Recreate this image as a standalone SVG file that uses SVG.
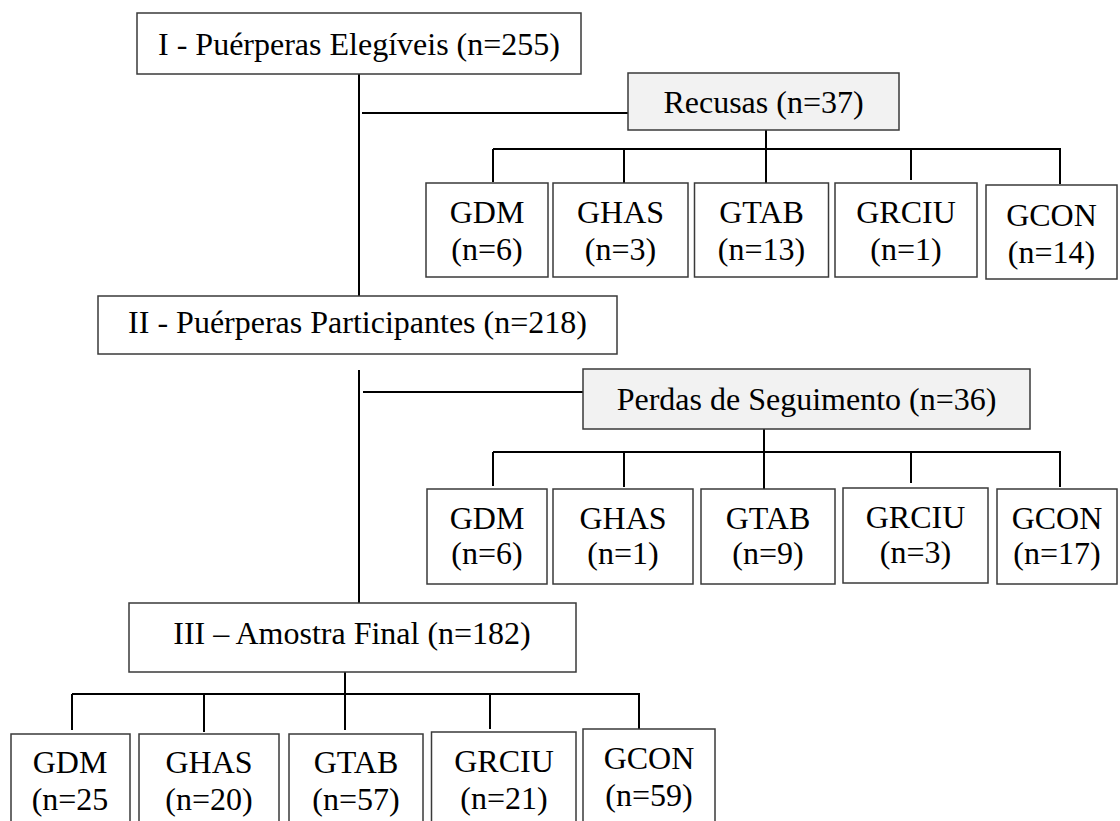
<svg xmlns="http://www.w3.org/2000/svg" width="1120" height="821" viewBox="0 0 1120 821">
<style>
.box{fill:#ffffff;stroke:#3a3a3a;stroke-width:1.5}
.gray{fill:#f2f2f2;stroke:#3a3a3a;stroke-width:1.5}
text{font-family:'Liberation Serif','DejaVu Serif',serif;font-size:32px;fill:#000;text-anchor:middle}
.c line{stroke:#000;stroke-width:2}
</style>
<rect width="1120" height="821" fill="#ffffff"/>
<g class="c" id="connectors">
<line x1="359" y1="74" x2="359" y2="296"/>
<line x1="362" y1="113" x2="628" y2="113"/>
<line x1="766" y1="130" x2="766" y2="183"/>
<line x1="493" y1="149" x2="1061" y2="149"/>
<line x1="493" y1="149" x2="493" y2="182"/>
<line x1="624" y1="149" x2="624" y2="183"/>
<line x1="911" y1="149" x2="911" y2="180"/>
<line x1="1060" y1="149" x2="1060" y2="184"/>
<line x1="359" y1="370" x2="359" y2="603"/>
<line x1="363" y1="392" x2="583" y2="392"/>
<line x1="764" y1="429" x2="764" y2="489"/>
<line x1="493" y1="452" x2="1061" y2="452"/>
<line x1="493" y1="452" x2="493" y2="486"/>
<line x1="624" y1="452" x2="624" y2="487"/>
<line x1="911" y1="452" x2="911" y2="483"/>
<line x1="1060" y1="452" x2="1060" y2="487"/>
<line x1="345" y1="672" x2="345" y2="730"/>
<line x1="72" y1="694" x2="640" y2="694"/>
<line x1="72" y1="694" x2="72" y2="730"/>
<line x1="204" y1="694" x2="204" y2="732"/>
<line x1="490" y1="694" x2="490" y2="729"/>
<line x1="639" y1="694" x2="639" y2="729"/>
</g>
<g id="n1"><rect class="box" x="137" y="13" width="444" height="61"/><text x="359" y="55">I - Puérperas Elegíveis (n=255)</text></g>
<g id="recusas"><rect class="gray" x="628" y="73" width="271" height="57"/><text x="763.5" y="113">Recusas (n=37)</text></g>
<g id="r1"><rect class="box" x="426" y="183" width="122" height="94"/><text x="487" y="223">GDM</text><text x="487" y="260">(n=6)</text></g>
<g id="r2"><rect class="box" x="553" y="183" width="135" height="94"/><text x="620.5" y="223">GHAS</text><text x="620.5" y="260">(n=3)</text></g>
<g id="r3"><rect class="box" x="694.5" y="183" width="134" height="94"/><text x="761.5" y="223">GTAB</text><text x="761.5" y="260">(n=13)</text></g>
<g id="r4"><rect class="box" x="835" y="183" width="142" height="94"/><text x="906" y="223">GRCIU</text><text x="906" y="260">(n=1)</text></g>
<g id="r5"><rect class="box" x="986" y="185" width="131" height="94"/><text x="1051.5" y="226">GCON</text><text x="1051.5" y="263">(n=14)</text></g>
<g id="n2"><rect class="box" x="98" y="296" width="519" height="58"/><text x="357.5" y="333">II - Puérperas Participantes (n=218)</text></g>
<g id="perdas"><rect class="gray" x="583" y="369" width="447" height="60"/><text x="806.5" y="410">Perdas de Seguimento (n=36)</text></g>
<g id="p1"><rect class="box" x="427" y="489" width="120" height="95"/><text x="487" y="529">GDM</text><text x="487" y="564">(n=6)</text></g>
<g id="p2"><rect class="box" x="553" y="489" width="140" height="95"/><text x="623" y="529">GHAS</text><text x="623" y="564">(n=1)</text></g>
<g id="p3"><rect class="box" x="701" y="489" width="134" height="95"/><text x="768" y="529">GTAB</text><text x="768" y="564">(n=9)</text></g>
<g id="p4"><rect class="box" x="843" y="488" width="145" height="95"/><text x="915.5" y="528">GRCIU</text><text x="915.5" y="563">(n=3)</text></g>
<g id="p5"><rect class="box" x="997" y="489" width="120" height="95"/><text x="1057" y="529">GCON</text><text x="1057" y="564">(n=17)</text></g>
<g id="n3"><rect class="box" x="129" y="603" width="447" height="69"/><text x="352" y="644">III – Amostra Final (n=182)</text></g>
<g id="f1"><rect class="box" x="11" y="734" width="119" height="100"/><text x="70" y="773">GDM</text><text x="70" y="810">(n=25</text></g>
<g id="f2"><rect class="box" x="139" y="734" width="140" height="100"/><text x="209" y="773">GHAS</text><text x="209" y="810">(n=20)</text></g>
<g id="f3"><rect class="box" x="289" y="734" width="134" height="100"/><text x="356" y="773">GTAB</text><text x="356" y="810">(n=57)</text></g>
<g id="f4"><rect class="box" x="431.5" y="732" width="144.5" height="100"/><text x="504" y="772">GRCIU</text><text x="504" y="809">(n=21)</text></g>
<g id="f5"><rect class="box" x="583" y="729" width="132" height="100"/><text x="649" y="769">GCON</text><text x="649" y="806">(n=59)</text></g>
</svg>
